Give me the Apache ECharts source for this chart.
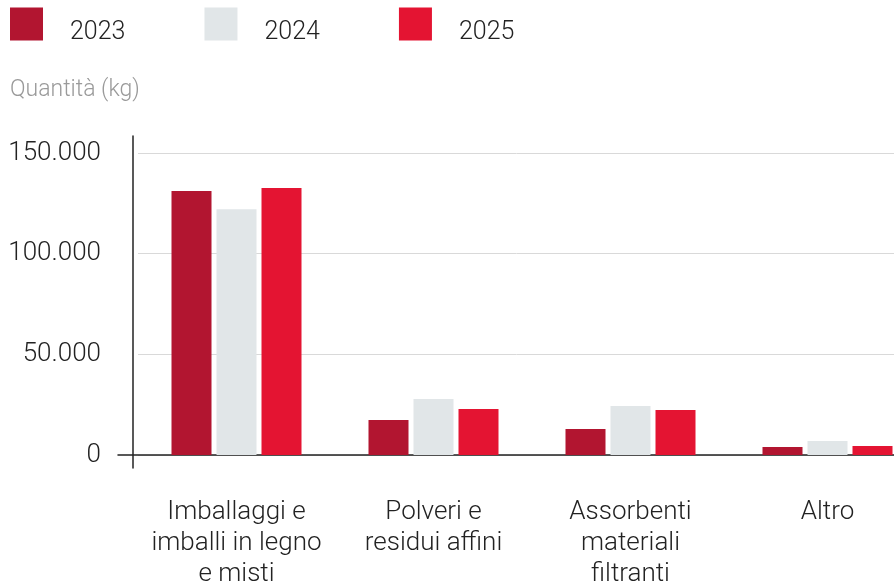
<!DOCTYPE html>
<html>
<head>
  <meta charset="utf-8">
  <script src="https://cdn.jsdelivr.net/npm/echarts@6/dist/echarts.min.js"></script>
  <style>
    html, body { margin: 0; padding: 0; background: #fff; }
    #wasteChart { width: 894px; height: 587px; }
  </style>
</head>
<body>
<div id="wasteChart"></div>
<script>
  // dati (kg)
  const categories = ['Imballaggi e\nimballi in legno\ne misti', 'Polveri e\nresidui affini', 'Assorbenti\nmateriali\nfiltranti', 'Altro']
  const years = ['2023', '2024', '2025']
  const values2023 = [131100, 17400, 12900, 4000]
  const values2024 = [122100, 27800, 24300, 7000]
  const values2025 = [132600, 22800, 22300, 4500]
  const yTicks = [0, 50000, 100000, 150000]

  const colors = ['#B21530', '#E1E6E8', '#E41432']
  const font = 'Roboto'

  function formatIt(v) {// separatore migliaia all'italiana
    return String(v).replace(/\B(?=(\d{3})+(?!\d))/g, '.')
  }

  const myChart = echarts.init(document.getElementById('wasteChart'))

  const seriesData = [values2023, values2024, values2025]
  const series = years.map((y, i) => ({
    name: y,
    type: 'bar',
    xAxisIndex: 0,
    yAxisIndex: 0,
    barWidth: 40,
    barGap: '12.5%',
    itemStyle: {color: colors[i]},
    data: seriesData[i]
  }))

  myChart.setOption({
    animation: false,
    textStyle: {fontFamily: font},
    title: {
      text: 'Quantità (kg)',
      left: 10,
      top: 79,
      padding: 0,
      textStyle: {fontFamily: font, fontSize: 23, fontWeight: 300, color: '#9a9a9a'}
    },
    legend: {
      left: 10,
      top: 4,
      padding: 0,
      itemWidth: 33,
      itemHeight: 33,
      itemGap: 79,
      icon: 'rect',
      data: years,
      // riga vuota sopra per abbassare un po' il testo
      formatter: '{pad| }\n{t|{name}}',
      textStyle: {
        fontFamily: font,
        color: '#222',
        width: 60,
        padding: [0, 0, 0, 22],
        rich: {
          pad: {fontSize: 10, lineHeight: 18},
          t: {fontFamily: font, fontSize: 25, fontWeight: 300, color: '#222', lineHeight: 30}
        }
      }
    },
    grid: [
      // area dei dati
      {left: 138, right: -32, top: 153, bottom: 132, outerBoundsMode: 'none'},
      // cornice degli assi
      {left: 118, right: 0, top: 136, bottom: 119, outerBoundsMode: 'none'}
    ],
    xAxis: [
      {
        type: 'category',
        gridIndex: 0,
        data: categories,
        axisLine: {show: false},
        axisTick: {show: false},
        axisLabel: {
          fontFamily: font,
          fontSize: 26,
          fontWeight: 300,
          lineHeight: 31,
          color: '#222',
          margin: 42,
          interval: 0
        }
      },
      {
        type: 'value',
        gridIndex: 1,
        min: 0,
        max: 1,
        axisLine: {show: true, onZero: true, lineStyle: {color: '#222', width: 1.5}},
        axisTick: {show: false},
        axisLabel: {show: false},
        splitLine: {show: false}
      }
    ],
    yAxis: [
      {
        type: 'value',
        gridIndex: 0,
        min: yTicks[0],
        max: yTicks[yTicks.length - 1],
        interval: yTicks[1] - yTicks[0],
        axisLine: {show: false},
        axisTick: {show: false},
        axisLabel: {
          fontFamily: font,
          fontSize: 26,
          fontWeight: 300,
          color: '#222',
          margin: 37,
          formatter: formatIt
        },
        splitLine: {lineStyle: {color: '#d9d9d9', width: 1}}
      },
      {
        type: 'value',
        gridIndex: 1,
        min: -6500,
        max: 158500,
        offset: -15,
        axisLine: {show: true, onZero: false, lineStyle: {color: '#222', width: 1.5}},
        axisTick: {show: false},
        axisLabel: {show: false},
        splitLine: {show: false}
      }
    ],
    series: series
  })
</script>
</body>
</html>
